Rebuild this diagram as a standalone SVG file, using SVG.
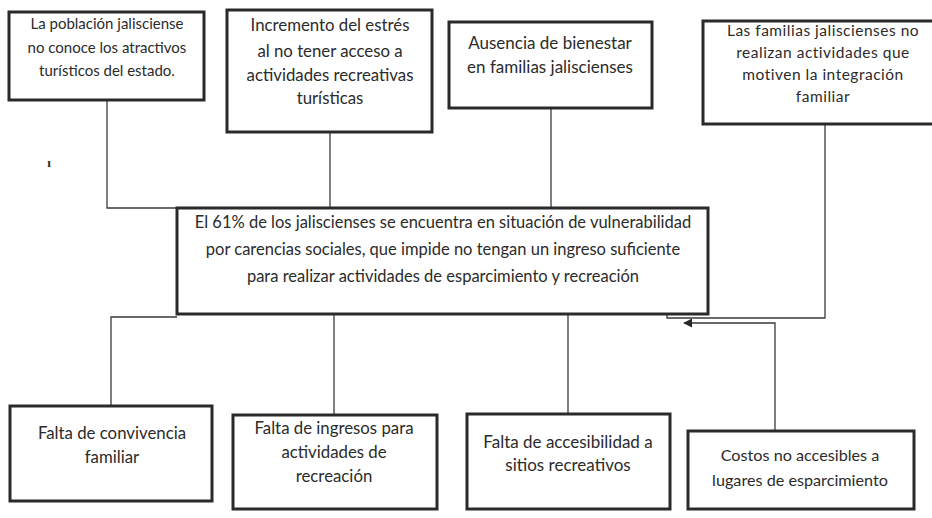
<svg xmlns="http://www.w3.org/2000/svg" width="932" height="518" viewBox="0 0 932 518">
<defs>
<style>
.box{fill:#fff;stroke:#2a2a2a;stroke-width:3}
.con{fill:none;stroke:#3a3a3a;stroke-width:1.3}
text{font-family:Lato,"Open Sans","Liberation Sans",sans-serif;fill:#2b2b2b;text-anchor:middle}
.t{font-size:15px}
.m{font-size:16.8px}
.c{font-size:16.5px}
</style>
<marker id="ah" viewBox="0 0 10 10" refX="9" refY="5" markerWidth="7" markerHeight="7" orient="auto">
<path d="M0,0 L10,5 L0,10 z" fill="#2a2a2a"/>
</marker>
</defs>
<rect width="932" height="518" fill="#fff"/>
<g id="connectors">
<polyline class="con" points="107,100 107,208 177,208"/>
<line class="con" x1="330" y1="132" x2="330" y2="208"/>
<line class="con" x1="551" y1="108" x2="551" y2="208"/>
<polyline class="con" points="825,124 825,318 667,318 667,314"/>
<polyline class="con" points="177,317 111,317 111,406"/>
<line class="con" x1="334" y1="314" x2="334" y2="415"/>
<line class="con" x1="568" y1="314" x2="568" y2="414"/>
<polyline class="con" points="775,431 775,323 684,323" marker-end="url(#ah)"/>
</g>
<g id="n1">
<rect class="box" x="9" y="12" width="195" height="88"/>
<text class="t" x="107" y="29">La población jalisciense</text>
<text class="t" x="107" y="53">no conoce los atractivos</text>
<text class="t" x="107" y="76">turísticos del estado.</text>
</g>
<g id="n2">
<rect class="box" x="227" y="10" width="205" height="122"/>
<text class="m" x="330" y="31">Incremento del estrés</text>
<text class="m" x="330" y="57">al no tener acceso a</text>
<text class="m" x="330" y="81">actividades recreativas</text>
<text class="m" x="330" y="104">turísticas</text>
</g>
<g id="n3">
<rect class="box" x="449" y="22" width="203" height="86"/>
<text class="m" x="550" y="49" style="font-size:17px">Ausencia de bienestar</text>
<text class="m" x="550" y="73" style="font-size:17px">en familias jaliscienses</text>
</g>
<g id="n4">
<rect class="box" x="703" y="21" width="232" height="103"/>
<text x="823" y="36" style="font-size:15.5px" letter-spacing="0.5">Las familias jaliscienses no</text>
<text x="823" y="58" style="font-size:15.5px" letter-spacing="0.5">realizan actividades que</text>
<text x="823" y="80" style="font-size:15.5px" letter-spacing="0.5">motiven la integración</text>
<text x="823" y="102" style="font-size:15.5px" letter-spacing="0.5">familiar</text>
</g>
<g id="mark">
<text x="49" y="167" style="font-family:'Liberation Serif',serif;font-size:13px;font-weight:bold">ı</text>
</g>
<g id="center">
<rect class="box" x="177" y="208" width="531" height="106"/>
<text class="c" x="443" y="228">El 61% de los jaliscienses se encuentra en situación de vulnerabilidad</text>
<text class="c" x="443" y="255">por carencias sociales,  que impide no tengan un ingreso suficiente</text>
<text class="c" x="443" y="282">para realizar actividades de esparcimiento y recreación</text>
</g>
<g id="b1">
<rect class="box" x="10" y="406" width="202" height="95"/>
<text class="m" x="112" y="439">Falta de convivencia</text>
<text class="m" x="112" y="463">familiar</text>
</g>
<g id="b2">
<rect class="box" x="233" y="415" width="204" height="94"/>
<text class="m" x="334" y="434">Falta de ingresos para</text>
<text class="m" x="334" y="458">actividades de</text>
<text class="m" x="334" y="482">recreación</text>
</g>
<g id="b3">
<rect class="box" x="467" y="414" width="203" height="95"/>
<text class="m" x="568" y="448" style="font-size:17px">Falta de accesibilidad a</text>
<text class="m" x="568" y="471" style="font-size:17px">sitios recreativos</text>
</g>
<g id="b4">
<rect class="box" x="688" y="431" width="226" height="78"/>
<text x="800" y="461" style="font-size:16.2px">Costos no accesibles a</text>
<text x="800" y="486" style="font-size:16.2px">lugares de esparcimiento</text>
</g>
</svg>
